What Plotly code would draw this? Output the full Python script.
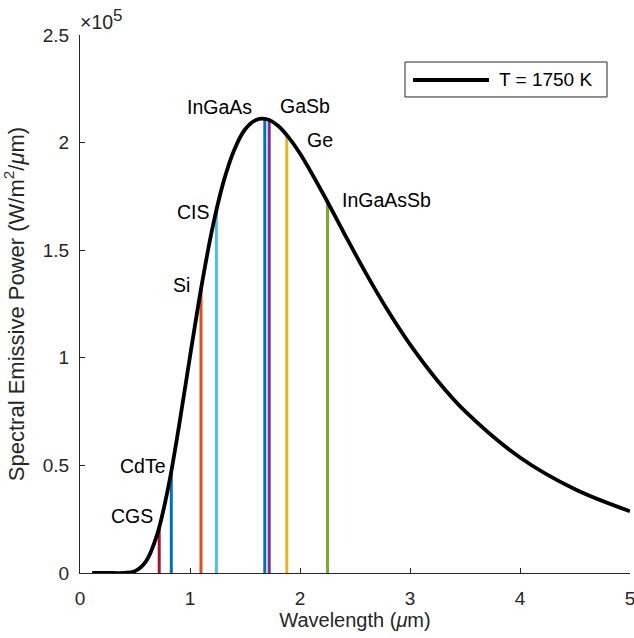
import plotly.graph_objects as go

# Blackbody curve, T = 1750 K
wavelength = [0.11, 0.30, 0.40, 0.50, 0.60, 0.70, 0.80, 0.90, 1.00, 1.10, 1.20, 1.30,
              1.40, 1.50, 1.60, 1.70, 1.80, 1.90, 2.00, 2.20, 2.40, 2.60, 2.80, 3.00,
              3.25, 3.50, 4.00, 4.50, 5.00]
power = [0, 0.2, 43, 870, 5400, 17640, 39240, 68290, 100620, 131940, 159300, 180940,
         196380, 206090, 210540, 210840, 207800, 202200, 194900, 177140, 157970, 139240,
         121810, 106200, 89350, 75180, 53650, 38890, 28670]
series_name = "T = 1750 K"

# Band-gap wavelengths of cell materials
materials = ["CGS", "CdTe", "Si", "CIS", "InGaAs", "GaSb", "Ge", "InGaAsSb"]
mat_wl = [0.72, 0.83, 1.10, 1.24, 1.68, 1.72, 1.88, 2.25]
mat_power = [21230, 47400, 131940, 168730, 211040, 210530, 203540, 172400]
mat_colors = ["#A2142F", "#0072BD", "#D95319", "#4DBEEE", "#0072BD", "#7E2F8E", "#EDB120", "#77AC30"]

# label placement (data coords) and anchors
lab_x = [0.68, 0.80, 1.02, 1.20, 1.58, 1.80, 2.045, 2.364]
lab_y = [26500, 49700, 133800, 167700, 216500, 217000, 201200, 173300]
lab_anchor = ["right", "right", "right", "right", "right", "left", "left", "left"]

xticks = [0, 1, 2, 3, 4, 5]
yticks = [0, 50000, 100000, 150000, 200000, 250000]
yticktext = ["0", "0.5", "1", "1.5", "2", "2.5"]

axis_col = "#262626"
font_fam = "Liberation Sans, Arial, sans-serif"
fs = 19

fig = go.Figure()
for i in range(len(materials)):
    fig.add_trace(go.Scatter(x=[mat_wl[i], mat_wl[i]], y=[0, mat_power[i]], mode="lines",
                             line=dict(color=mat_colors[i], width=3), showlegend=False,
                             hoverinfo="skip"))
fig.add_trace(go.Scatter(x=wavelength, y=power, mode="lines",
                         line=dict(color="black", width=3.8, shape="spline"),
                         name=series_name, showlegend=False))

for i in range(len(materials)):
    fig.add_annotation(x=lab_x[i], y=lab_y[i], text=materials[i], showarrow=False,
                       xanchor=lab_anchor[i], yanchor="middle",
                       font=dict(size=19.5, color="black", family=font_fam))

# exponent label
fig.add_annotation(x=0, y=1, xref="paper", yref="paper",
                   text="×10<sup><span style=\"font-size:17px\">5</span></sup>", showarrow=False,
                   xanchor="left", yanchor="bottom", yshift=0, xshift=-2,
                   font=dict(size=19.5, color=axis_col, family=font_fam))

# legend box (drawn manually to match the long legend line)
fig.add_shape(type="rect", xref="paper", yref="paper", x0=0.5909, x1=0.9582, y0=0.8848, y1=0.9498,
              line=dict(color=axis_col, width=1), fillcolor="white", layer="above")
fig.add_shape(type="line", xref="paper", yref="paper", x0=0.6055, x1=0.7436, y0=0.9164, y1=0.9164,
              line=dict(color="black", width=3.8), layer="above")
fig.add_annotation(x=0.7582, y=0.9164, xref="paper", yref="paper", text=series_name, showarrow=False,
                   xanchor="left", yanchor="middle", font=dict(size=fs, color="black", family=font_fam))

fig.update_layout(
    width=634, height=638,
    margin=dict(l=80, r=4, t=35, b=65),
    paper_bgcolor="white", plot_bgcolor="white",
    font=dict(family=font_fam, size=fs, color=axis_col),
    showlegend=False,
    xaxis=dict(range=[0, 5], tickvals=xticks, ticks="inside", ticklen=5, tickcolor=axis_col,
               showline=True, linecolor=axis_col, linewidth=1, showgrid=False, zeroline=False,
               ticklabeloverflow="allow", ticklabelstandoff=8, automargin=False,
               tickfont=dict(size=fs),
               title=dict(text="Wavelength (<i>μ</i>m)", standoff=4, font=dict(size=20))),
    yaxis=dict(range=[0, 250000], tickvals=yticks, ticktext=yticktext, ticks="inside", ticklen=5,
               tickcolor=axis_col, showline=True, linecolor=axis_col, linewidth=1, showgrid=False,
               zeroline=False, ticklabelstandoff=6, ticklabeloverflow="allow", automargin=False,
               tickfont=dict(size=fs),
               title=dict(text="Spectral Emissive Power (W/m<sup>2</sup>/<i>μ</i>m)", standoff=12,
                          font=dict(size=22))),
)

fig.write_html("out.html")
